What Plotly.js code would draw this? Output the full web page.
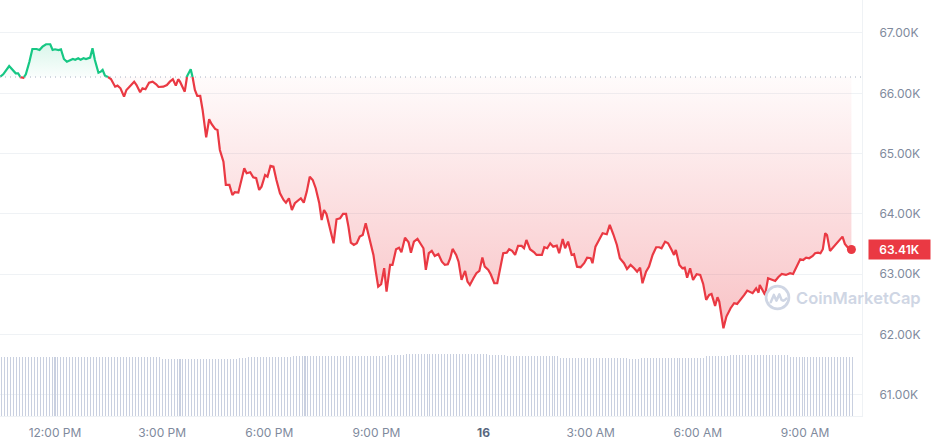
<!DOCTYPE html>
<html>
<head>
<meta charset="utf-8">
<script src="https://cdn.plot.ly/plotly-3.0.1.min.js"></script>
<style>html,body{margin:0;padding:0;background:#fff;}#chart{width:931px;height:445px;}</style>
</head>
<body>
<div id="chart"></div>
<script>
// Time in minutes since 00:00 of day 15 (values > 1440 are on day 16)
const times = [
628,633,643,650,654,658,662,667,671,677,
682,689,694,699,705,712,716,720,726,730,
735,740,745,750,754,759,763,768,772,776,
779,783,787,793,797,800,804,808,814,821,
825,830,836,840,847,853,857,863,867,872,
878,884,890,894,902,908,913,918,923,927,
930,938,942,948,951,955,959,964,968,974,
979,983,989,993,997,1003,1007,1013,1018,1022,
1028,1032,1038,1042,1048,1053,1058,1063,1067,1073,
1077,1082,1087,1092,1098,1104,1108,1113,1118,1123,
1129,1133,1138,1143,1148,1153,1158,1164,1168,1172,
1176,1182,1188,1193,1199,1204,1209,1213,1217,1222,
1227,1232,1237,1242,1248,1255,1259,1263,1268,1273,
1277,1283,1287,1293,1298,1302,1308,1314,1318,1323,
1329,1333,1339,1343,1348,1353,1358,1364,1370,1375,
1380,1384,1388,1394,1398,1403,1409,1413,1417,1423,
1428,1433,1438,1442,1448,1452,1458,1463,1468,1473,
1479,1483,1488,1493,1498,1504,1508,1512,1518,1525,
1529,1538,1542,1547,1552,1557,1563,1567,1573,1577,
1582,1588,1592,1597,1603,1609,1614,1620,1623,1628,
1634,1640,1647,1652,1658,1664,1669,1676,1681,1687,
1693,1698,1703,1707,1713,1718,1724,1730,1735,1739,
1745,1750,1756,1760,1763,1769,1774,1778,1782,1787,
1792,1798,1804,1809,1814,1819,1823,1829,1833,1836,
1843,1848,1855,1861,1866,1872,1878,1883,1888,1892,
1898,1902,1904,1909,1913,1918,1924,1930,1935,1941,
1948,1955,1960,1966,1972,1977,1982,1987,1993,1997,
2002,2006,2010,2014,2017,2022,2028,2033,2039,2043,
2047,2053,2058
];
const prices = [
66275,66315,66453,66370,66332,66332,66266,66259,66315,66524,
66735,66735,66718,66773,66813,66813,66718,66730,66718,66730,
66569,66524,66541,66569,66557,66581,66557,66581,66569,66581,
66591,66746,66552,66342,66359,66387,66292,66276,66238,66110,
66127,66083,65944,66055,66138,66193,66138,66017,66083,66067,
66176,66193,66150,66105,66110,66138,66193,66233,66127,66233,
66193,66027,66287,66398,66276,66055,65956,65956,65724,65271,
65570,65492,65409,65392,65061,64867,64481,64481,64315,64360,
64353,64509,64757,64675,64691,64608,64592,64398,64452,64646,
64618,64796,64784,64563,64343,64232,64187,64260,64066,64177,
64232,64260,64187,64370,64618,64563,64426,64177,63900,64066,
64000,63763,63514,63912,63929,64000,64000,63789,63524,63486,
63514,63624,63652,63846,63624,63320,63043,62795,62835,63100,
62712,63155,63155,63415,63441,63365,63607,63531,63358,63541,
63586,63514,63431,63072,63349,63387,63304,63337,63209,63155,
63166,63266,63420,63320,63209,62906,63055,62878,62823,62934,
63017,63055,63276,63126,63072,63000,62851,62851,63072,63349,
63358,63415,63387,63320,63470,63470,63431,63569,63415,63365,
63320,63320,63448,63431,63514,63458,63475,63349,63586,63431,
63541,63320,63332,63126,63117,63183,63276,63266,63183,63458,
63569,63680,63663,63818,63663,63486,63266,63183,63088,63155,
63100,63043,63110,62851,63043,63126,63320,63448,63448,63431,
63541,63514,63403,63320,63403,63155,63100,63110,62944,63100,
62906,63000,62989,62840,62575,62657,62674,62475,62619,62546,
62105,62298,62437,62520,62508,62575,62657,62729,62712,62686,
62768,62695,62823,62740,62657,62934,62906,62889,62951,63005,
62989,63017,63005,63126,63249,63237,63276,63266,63304,63349,
63358,63349,63415,63680,63652,63387,63458,63514,63569,63624,
63503,63431,63410
];
// opening / reference price (dotted line)
const basePrice = 66270;

// 24h volume (billions USD), one bar every 5 minutes starting 10:30
const volStart = 630;
const volStep = 5;
const volumes = [
35.3,35.3,35.3,35.3,35.3,35.3,35.3,35.3,35.3,35.3,
35.3,35.3,35.3,35.3,35.3,35.3,35.3,35.3,35.3,35.3,
35.3,35.3,35.3,35.3,35.3,35.3,35.3,35.3,35.3,35.3,
35.3,35.3,35.3,35.3,35.3,35.3,35.3,35.3,35.3,35.3,
35.3,35.3,35.3,35.3,35.3,35.3,35.3,35.3,35.3,35.3,
35.3,35.3,35.3,35.3,
34.3,34.3,34.3,34.3,34.3,34.3,34.3,34.3,34.3,34.3,
34.3,34.3,34.3,34.3,34.3,34.3,34.3,34.3,34.3,34.3,
34.3,34.3,34.3,34.3,34.3,34.3,
34.9,34.9,34.9,
35.3,35.3,35.3,35.3,35.3,35.3,35.3,35.3,35.3,35.3,
35.3,35.3,35.3,35.3,35.3,
36.1,36.1,36.1,36.1,36.1,36.1,36.1,36.1,36.1,36.1,
36.1,36.1,36.1,36.1,36.1,36.1,36.1,36.1,36.1,36.1,
36.1,36.1,36.1,36.1,36.1,36.1,36.1,36.1,36.1,36.1,
36.1,36.1,
36.7,36.7,36.7,36.7,36.7,36.7,
37.3,37.3,37.3,37.3,37.3,37.3,37.3,37.3,37.3,37.3,
37.3,37.3,37.3,37.3,37.3,37.3,37.3,37.3,37.3,37.3,
37.3,37.3,37.3,37.3,37.3,37.3,37.3,37.3,
36.7,36.7,36.7,36.7,36.7,36.7,
36.1,36.1,36.1,36.1,36.1,36.1,36.1,36.1,36.1,36.1,
36.1,36.1,36.1,36.1,36.1,36.1,36.1,36.1,
34.9,34.9,34.9,34.9,34.9,34.9,34.9,34.9,34.9,34.9,
34.9,34.9,34.9,34.9,34.9,34.9,34.9,34.9,34.9,34.9,
34.9,34.9,34.9,
34.3,34.3,34.3,34.3,
34.9,34.9,34.9,34.9,34.9,34.9,34.9,34.9,34.9,34.9,
34.9,34.9,34.9,34.9,34.9,34.9,34.9,34.9,34.9,34.9,
34.9,34.9,
36.1,36.1,36.1,36.1,36.1,36.1,36.1,36.1,
36.7,36.7,36.7,36.7,36.7,36.7,36.7,36.7,36.7,36.7,
36.7,36.7,36.7,36.7,36.7,36.7,36.7,36.7,36.7,36.7,
35.6,35.6,35.6,35.6,35.6,35.6,35.6,35.6,35.6,35.6,
35.6,35.6,35.6,35.6,35.6,35.6,35.6,35.6,35.6,35.6,
35.6,35.6
];

const xTickVals = [720, 900, 1080, 1260, 1440, 1620, 1800, 1980];
const xTickText = ['12:00 PM', '3:00 PM', '6:00 PM', '9:00 PM', '<span style="color:#58667e"><b>16</b></span>', '3:00 AM', '6:00 AM', '9:00 AM'];
const yTickVals = [61000, 62000, 63000, 64000, 65000, 66000, 67000];
const yTickText = ['61.00K', '62.00K', '63.00K', '64.00K', '65.00K', '66.00K', '67.00K'];

const RED = '#ea3943';
const GREEN = '#16c784';

// insert base-crossing points so the colour switches exactly at the reference line
const xs = [], ys = [];
for (let i = 0; i < prices.length; i++) {
  if (i > 0 && (prices[i - 1] - basePrice) * (prices[i] - basePrice) < 0) {
    const t = (basePrice - prices[i - 1]) / (prices[i] - prices[i - 1]);
    xs.push(times[i - 1] + t * (times[i] - times[i - 1]));
    ys.push(basePrice);
  }
  xs.push(times[i]);
  ys.push(prices[i]);
}
const baseArr = xs.map(() => basePrice);
const lowArr = ys.map(v => Math.min(v, basePrice));
const highArr = ys.map(v => Math.max(v, basePrice));
const redLine = ys.map(v => v <= basePrice ? v : null);
const greenLine = ys.map(v => v >= basePrice ? v : null);
const maxP = Math.max(...prices);
const lastT = times[times.length - 1], lastP = prices[prices.length - 1];

const traces = [
  { type: 'bar', x0: volStart, dx: volStep, y: volumes, yaxis: 'y2', width: 1.7,
    marker: { color: '#c9d0e0', line: { width: 0 } }, hoverinfo: 'skip', showlegend: false },
  { type: 'scatter', mode: 'lines', x: xs, y: baseArr, line: { width: 0 }, hoverinfo: 'skip', showlegend: false },
  { type: 'scatter', mode: 'lines', x: xs, y: lowArr, fill: 'tonexty', line: { width: 0 },
    fillgradient: { type: 'vertical', start: 62000, stop: basePrice,
      colorscale: [[0, 'rgba(234,57,67,0.31)'], [1, 'rgba(234,57,67,0.02)']] },
    hoverinfo: 'skip', showlegend: false },
  { type: 'scatter', mode: 'lines', x: xs, y: baseArr, line: { width: 0 }, hoverinfo: 'skip', showlegend: false },
  { type: 'scatter', mode: 'lines', x: xs, y: highArr, fill: 'tonexty', line: { width: 0 },
    fillgradient: { type: 'vertical', start: basePrice, stop: maxP,
      colorscale: [[0, 'rgba(22,199,132,0.02)'], [1, 'rgba(22,199,132,0.16)']] },
    hoverinfo: 'skip', showlegend: false },
  { type: 'scatter', mode: 'lines', x: xs, y: redLine, connectgaps: false,
    line: { color: RED, width: 2.2 }, hoverinfo: 'skip', showlegend: false },
  { type: 'scatter', mode: 'lines', x: xs, y: greenLine, connectgaps: false,
    line: { color: GREEN, width: 2.2 }, hoverinfo: 'skip', showlegend: false },
  { type: 'scatter', mode: 'markers', x: [lastT], y: [lastP],
    marker: { color: RED, size: 9 }, hoverinfo: 'skip', showlegend: false, cliponaxis: false }
];

const logoSvg = '<svg xmlns="http://www.w3.org/2000/svg" viewBox="0 0 26 26">' +
  '<circle cx="13" cy="13" r="11" fill="none" stroke="#cfd6e4" stroke-width="2.6"/>' +
  '<path d="M6.5 17.5 L9.5 10.5 L12 16 L14.8 10 L17 15.5 Q19 17 21.5 14" fill="none" stroke="#cfd6e4" stroke-width="2.4" stroke-linejoin="round" stroke-linecap="round"/></svg>';

const layout = {
  width: 931, height: 445,
  margin: { l: 0, r: 69, t: 0, b: 29, pad: 0 },
  paper_bgcolor: '#ffffff', plot_bgcolor: '#ffffff',
  font: { family: 'Inter, "Noto Sans", sans-serif', size: 12, color: '#808a9d' },
  showlegend: false,
  xaxis: {
    range: [627.6, 2075.8], tickmode: 'array', tickvals: xTickVals, ticktext: xTickText,
    showgrid: false, zeroline: false, showline: true, linecolor: '#eff2f5', linewidth: 1,
    ticks: '', ticklabelstandoff: 6, tickfont: { size: 12, color: '#808a9d' }, fixedrange: true
  },
  yaxis: {
    side: 'right', range: [60650, 67547], tickmode: 'array', tickvals: yTickVals, ticktext: yTickText,
    showgrid: true, gridcolor: '#eff2f5', gridwidth: 1, zeroline: false,
    showline: true, linecolor: '#eff2f5', linewidth: 1, ticks: '', ticklabelstandoff: 14,
    tickfont: { size: 12, color: '#808a9d' }, fixedrange: true
  },
  yaxis2: { overlaying: 'y', range: [0, 250], visible: false, fixedrange: true },
  bargap: 0,
  shapes: [
    { type: 'line', xref: 'paper', x0: 0, x1: 1, yref: 'y', y0: basePrice, y1: basePrice,
      line: { color: '#a7b1c2', width: 1, dash: '1px,4px' }, layer: 'above' }
  ],
  annotations: [
    { xref: 'paper', x: 868 / 862, xanchor: 'left', yref: 'y', y: lastP, yanchor: 'middle',
      text: (lastP / 1000).toFixed(2) + 'K', showarrow: false, bgcolor: RED, borderpad: 3,
      width: 55, height: 13, align: 'center',
      font: { family: 'Inter, sans-serif', size: 12, color: '#ffffff', weight: 600 } },
    { xref: 'paper', x: 794 / 862, xanchor: 'left', yref: 'paper', y: (416 - 298) / 416, yanchor: 'middle',
      text: 'CoinMarketCap', showarrow: false,
      font: { family: 'Inter, sans-serif', size: 16.5, color: '#cfd6e4', weight: 600 } }
  ],
  images: [
    { source: 'data:image/svg+xml;charset=utf-8,' + encodeURIComponent(logoSvg),
      xref: 'paper', yref: 'paper', x: 764 / 862, y: (416 - 284) / 416,
      sizex: 27 / 862, sizey: 27 / 416, xanchor: 'left', yanchor: 'top', sizing: 'stretch', layer: 'above' }
  ]
};

Plotly.newPlot('chart', traces, layout, { displayModeBar: false, staticPlot: true });
</script>
</body>
</html>
